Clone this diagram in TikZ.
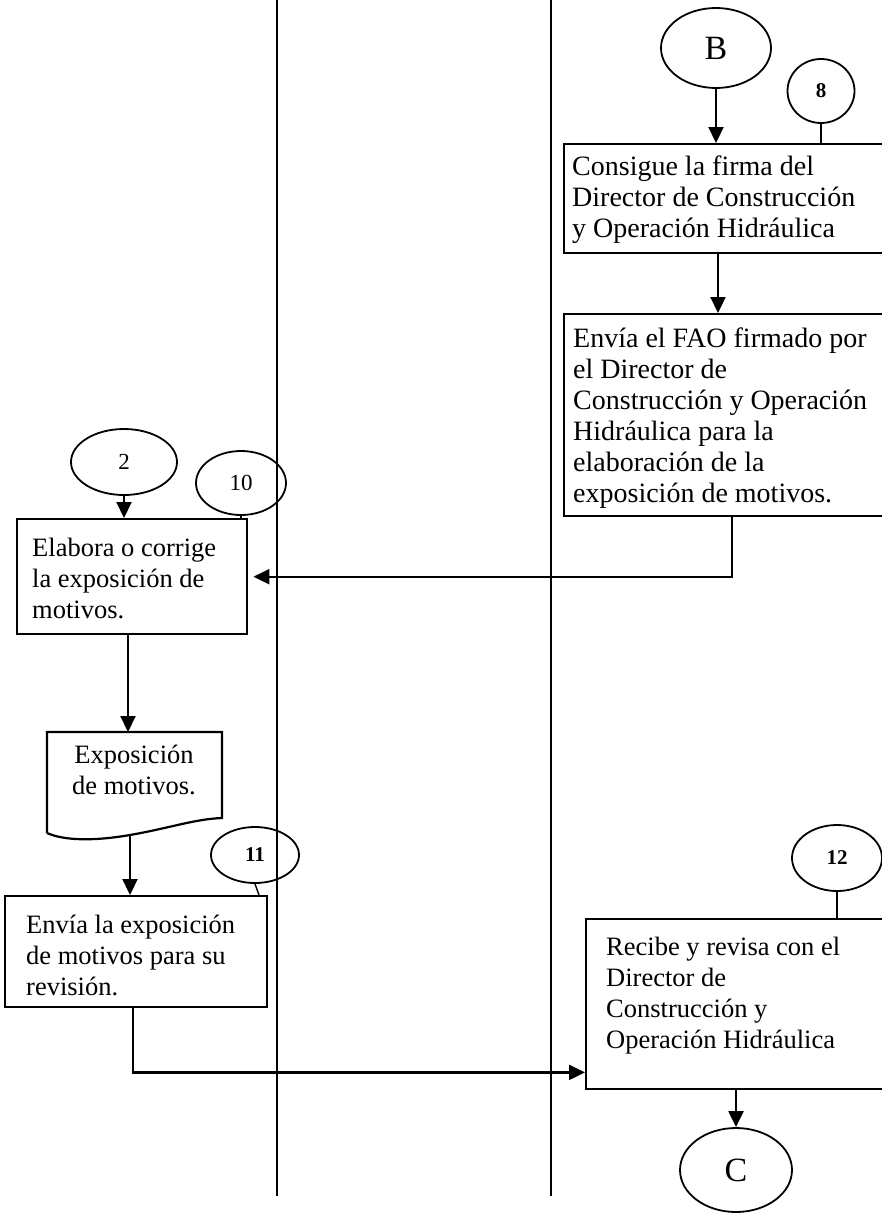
\documentclass[tikz,border=0pt]{standalone}
\usepackage{fontspec}
\setmainfont{Liberation Serif}
\usetikzlibrary{arrows.meta,calc,shapes.geometric}
\begin{document}
\begin{tikzpicture}[x=1pt,y=-1pt,
  box/.style={draw,line width=2.4pt,rectangle,inner sep=0pt,anchor=north west},
  txt/.style={anchor=north west,inner sep=0pt,align=left,font=\fontsize{26.5}{31}\selectfont},
  txtb/.style={txt,font=\fontsize{28}{31}\selectfont},
  conn/.style={draw,line width=1.8pt,ellipse,inner sep=0pt,font=\fontsize{23}{26}\selectfont},
  connb/.style={conn,font=\bfseries\fontsize{21}{24}\selectfont},
  term/.style={draw,line width=1.8pt,ellipse,inner sep=0pt,font=\fontsize{34}{40}\selectfont},
  arr/.style={line width=2.2pt,-{Triangle[width=15pt,length=16pt]}},
  tick/.style={line width=1.4pt},
  lane/.style={line width=1.5pt}]
\clip (0,0) rectangle (882,1213);
% swim lanes
\coordinate (l1t) at (277,0); \coordinate (l1b) at (277,1196);
\coordinate (l2t) at (551,0); \coordinate (l2b) at (551,1196);
\draw[lane] (l1t) -- (l1b);
\draw[lane] (l2t) -- (l2b);
% boxes
\node[box,minimum width=340pt,minimum height=109pt] (b1) at (563,143) {};
\node[txtb] (t1) at ($(b1.north west)+(9,13)$) {Consigue la firma del\\Director de Construcción\\y Operación Hidráulica};
\node[box,minimum width=340pt,minimum height=202pt] (b2) at (563,313) {};
\node[txtb] (t2) at ($(b2.north west)+(10,15)$) {Envía el FAO firmado por\\el Director de\\Construcción y Operación\\Hidráulica para la\\elaboración de la\\exposición de motivos.};
\node[box,minimum width=230pt,minimum height=115pt] (b3) at (16,518) {};
\node[txt] (t3) at ($(b3.north west)+(16,20)$) {Elabora o corrige\\la exposición de\\motivos.};
\node[box,minimum width=262pt,minimum height=111pt] (b4) at (4,895) {};
\node[txt] (t4) at ($(b4.north west)+(22,20)$) {Envía la exposición\\de motivos para su\\revisión.};
\node[box,minimum width=310pt,minimum height=170pt] (b5) at (585,918) {};
\node[txt] (t5) at ($(b5.north west)+(21,19)$) {Recibe y revisa con el\\Director de\\Construcción y\\Operación Hidráulica};
% document shape
\draw[line width=2.2pt] (47,833) -- (47,732) -- (222,732) -- (222,818)
  .. controls (195,819) and (170,828) .. (130,835)
  .. controls (95,841) and (65,841) .. (47,833);
\node[align=center,inner sep=0pt,font=\fontsize{26.5}{31}\selectfont] (doc) at (134,770) {Exposición\\de motivos.};
\coordinate (doct) at (128,732);
\coordinate (docb) at (130,835);
% ellipses
\node[term,minimum width=110pt,minimum height=80pt] (B) at (716,48) {B};
\node[connb,minimum width=67pt,minimum height=64pt] (n8) at (821,91) {8};
\node[conn,minimum width=106pt,minimum height=66pt] (n2) at (124,462) {2};
\node[conn,minimum width=90pt,minimum height=64pt] (n10) at (241,483) {10};
\node[connb,minimum width=88pt,minimum height=56pt] (n11) at (255,855) {11};
\node[connb,minimum width=90pt,minimum height=66pt] (n12) at (837,858) {12};
\node[term,minimum width=112pt,minimum height=84pt] (C) at (736,1170) {C};
% connector coordinates
\coordinate (b1o) at ($(b1.south west)+(155,0)$);
\coordinate (b2i) at ($(b2.north west)+(155,0)$);
\coordinate (b2o) at ($(b2.south west)+(169,0)$);
\coordinate (b3i) at ($(b3.east)+(5,0)$);
\coordinate (b3o) at ($(b3.south west)+(112,0)$);
\coordinate (b4t) at ($(b4.north west)+(255,0)$);
\coordinate (b4o) at ($(b4.south west)+(129,0)$);
\coordinate (b5i) at ($(b5.south west)+(0,-18)$);
% connectors
\draw[arr] (B.south) -- (B.south |- b1.north);
\draw[tick] (n8.south) -- (n8.south |- b1.north);
\draw[arr] (b1o) -- (b2i);
\draw[arr] (b2o) |- (b3i);
\draw[arr] (n2.south) -- (n2.south |- b3.north);
\draw[tick] (n10.south) -- (n10.south |- b3.north);
\draw[arr] (b3o) -- (doct);
\draw[arr] (docb) -- (docb |- b4.north);
\draw[tick] (n11.south) -- (b4t);
\draw[arr] (b4o) |- (b5i);
\draw[tick] (n12.south) -- (n12.south |- b5.north);
\draw[arr] (C.north |- b5.south) -- (C.north);
\end{tikzpicture}
\end{document}
